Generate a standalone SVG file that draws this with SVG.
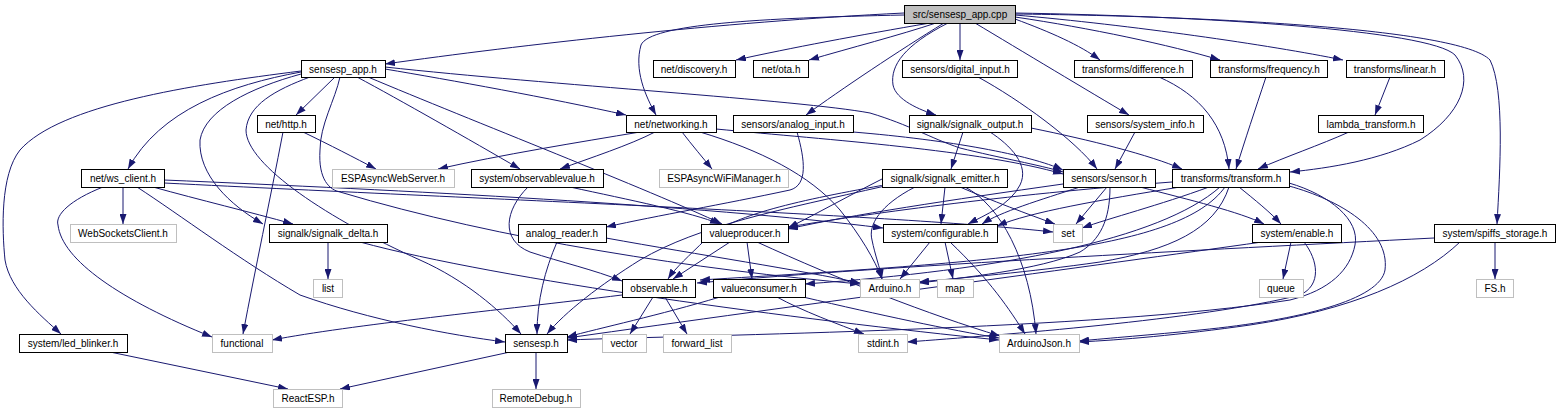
<svg xmlns="http://www.w3.org/2000/svg" width="1559" height="412" viewBox="0 0 1559 412">
<style>
.edge{fill:none;stroke:#191970;stroke-width:1;marker-end:url(#arrow)}
.n rect{fill:#ffffff;stroke:#000000;stroke-width:1}
.x rect{fill:#ffffff;stroke:#bfbfbf;stroke-width:1}
.root rect{fill:#bfbfbf;stroke:#000000;stroke-width:1}
text{font-family:"Liberation Sans",Arial,Helvetica,sans-serif;font-size:10px;text-anchor:middle;fill:#000000}
</style>
<defs>
<marker id="arrow" viewBox="0 0 10 7" refX="10" refY="3.5" markerWidth="10" markerHeight="7" markerUnits="userSpaceOnUse" orient="auto"><path d="M0,0L10,3.5L0,7z" fill="#191970"/></marker>
</defs>
<rect width="1559" height="412" fill="#ffffff"/>
<g id="connectors">
<path class="edge" d="M904,13 C720,22 520,45 385,64"/>
<path class="edge" d="M930,23 C860,35 790,48 736,60"/>
<path class="edge" d="M936,23 C900,35 850,48 809,60"/>
<path class="edge" d="M960,23 L960,60"/>
<path class="edge" d="M904,15 C760,18 650,24 641,45 C634,70 645,95 656,115"/>
<path class="edge" d="M944,23 C900,50 840,90 806,115"/>
<path class="edge" d="M948,23 C905,45 890,65 893,85 C896,100 920,110 936,115"/>
<path class="edge" d="M975,23 C1020,50 1090,92 1129,115"/>
<path class="edge" d="M1015,19 C1050,32 1080,45 1100,60"/>
<path class="edge" d="M1015,17 C1090,28 1170,45 1220,60"/>
<path class="edge" d="M1015,15 C1130,25 1270,45 1343,60"/>
<path class="edge" d="M1015,13 C1200,16 1430,30 1455,55 C1475,80 1460,115 1420,140 C1380,160 1330,168 1290,172"/>
<path class="edge" d="M1015,14 C1200,16 1460,28 1490,60 C1505,90 1500,170 1497,224"/>
<path class="edge" d="M335,77 L296,115"/>
<path class="edge" d="M301,72 C230,85 160,110 128,169"/>
<path class="edge" d="M301,71 C190,85 60,105 20,150 C0,175 2,230 5,260 C10,290 40,315 61,334"/>
<path class="edge" d="M301,74 C250,88 205,110 200,140 C198,175 230,205 263,224"/>
<path class="edge" d="M310,77 C275,90 248,105 246,130 C246,165 330,220 420,260 C465,280 500,310 521,334"/>
<path class="edge" d="M340,77 C335,100 320,125 320,150 C318,180 330,190 340,192 C500,240 700,270 860,284"/>
<path class="edge" d="M385,69 C450,80 550,98 626,115"/>
<path class="edge" d="M357,77 C400,100 470,140 520,169"/>
<path class="edge" d="M368,77 C470,120 650,190 722,224"/>
<path class="edge" d="M385,67 C550,85 800,100 870,113 C910,125 930,138 960,148 C1000,158 1040,165 1063,172"/>
<path class="edge" d="M303,132 C330,145 355,158 376,169"/>
<path class="edge" d="M283,132 C270,200 255,270 243,334"/>
<path class="edge" d="M640,132 C580,142 500,155 438,169"/>
<path class="edge" d="M655,132 C630,145 590,158 560,169"/>
<path class="edge" d="M682,132 C692,145 703,158 712,169"/>
<path class="edge" d="M716,129 C830,140 980,150 1063,174"/>
<path class="edge" d="M700,132 C760,150 810,175 840,210 C860,235 875,260 882,279"/>
<path class="edge" d="M797,132 C805,160 808,185 790,190 C720,205 660,215 606,227"/>
<path class="edge" d="M853,132 C950,140 1030,155 1063,170"/>
<path class="edge" d="M963,132 L951,169"/>
<path class="edge" d="M1031,128 C1090,140 1150,155 1182,169"/>
<path class="edge" d="M990,132 C1010,145 1030,165 1020,185 C1010,205 985,215 968,224"/>
<path class="edge" d="M1135,132 L1115,169"/>
<path class="edge" d="M978,77 C1020,100 1075,140 1097,169"/>
<path class="edge" d="M1159,77 C1200,95 1225,125 1229,169"/>
<path class="edge" d="M1266,77 C1255,110 1245,140 1236,169"/>
<path class="edge" d="M1390,77 L1375,115"/>
<path class="edge" d="M1349,132 C1320,145 1285,157 1258,169"/>
<path class="edge" d="M123,187 L123,224"/>
<path class="edge" d="M153,187 C200,200 250,212 293,224"/>
<path class="edge" d="M103,187 C70,200 55,215 58,225 C62,260 120,300 212,337"/>
<path class="edge" d="M137,187 C180,215 240,260 300,295 C370,320 450,335 505,342"/>
<path class="edge" d="M164,180 C400,190 700,205 883,228"/>
<path class="edge" d="M164,183 C500,200 900,215 1053,232"/>
<path class="edge" d="M328,242 L328,279"/>
<path class="edge" d="M360,242 C500,280 800,320 999,340"/>
<path class="edge" d="M557,242 C545,270 537,300 537,334"/>
<path class="edge" d="M606,238 C700,255 800,270 860,283"/>
<path class="edge" d="M528,187 C505,210 500,240 530,252 C560,262 595,270 622,281"/>
<path class="edge" d="M570,187 C630,200 690,212 720,224"/>
<path class="edge" d="M882,179 C850,195 820,212 788,228"/>
<path class="edge" d="M945,187 L941,224"/>
<path class="edge" d="M960,187 C990,200 1030,215 1055,224"/>
<path class="edge" d="M915,187 C880,205 868,225 872,240 C875,255 880,268 882,279"/>
<path class="edge" d="M965,187 C1000,205 1030,260 1036,334"/>
<path class="edge" d="M890,184 C800,200 730,215 705,240 C690,255 675,268 668,279"/>
<path class="edge" d="M885,186 C780,210 700,225 640,260 C600,285 565,312 547,334"/>
<path class="edge" d="M1107,187 L1076,224"/>
<path class="edge" d="M1080,187 C1040,200 1000,212 982,224"/>
<path class="edge" d="M1063,184 C950,200 850,215 788,229"/>
<path class="edge" d="M1140,187 C1190,200 1240,212 1264,224"/>
<path class="edge" d="M1110,187 C1110,220 1100,240 1080,252 C1040,270 960,278 919,283"/>
<path class="edge" d="M1172,182 C1000,195 860,215 788,227"/>
<path class="edge" d="M1180,187 C1100,200 1030,212 997,226"/>
<path class="edge" d="M1209,187 C1160,205 1110,218 1082,228"/>
<path class="edge" d="M1239,187 C1255,200 1270,212 1281,224"/>
<path class="edge" d="M1220,187 C1160,240 1000,270 805,284"/>
<path class="edge" d="M1225,187 C1180,250 1000,262 700,280"/>
<path class="edge" d="M1229,187 C1215,230 1170,250 1100,262 C1030,272 960,278 919,282"/>
<path class="edge" d="M1289,183 C1330,195 1360,220 1355,245 C1350,270 1330,290 1290,300 C1100,330 700,335 567,340"/>
<path class="edge" d="M1289,186 C1340,200 1390,230 1385,270 C1380,300 1300,320 1200,330 C1150,335 1110,338 1079,341"/>
<path class="edge" d="M1291,242 L1283,279"/>
<path class="edge" d="M1262,242 C1100,265 800,305 567,338"/>
<path class="edge" d="M1304,242 C1318,260 1322,285 1300,295 C1200,320 1000,335 907,342"/>
<path class="edge" d="M1495,242 L1495,279"/>
<path class="edge" d="M1460,242 C1420,280 1350,310 1250,325 C1180,335 1120,340 1079,342"/>
<path class="edge" d="M1434,238 C1200,250 900,265 697,283"/>
<path class="edge" d="M653,297 L630,334"/>
<path class="edge" d="M665,297 L687,334"/>
<path class="edge" d="M622,295 C500,310 350,325 272,340"/>
<path class="edge" d="M730,242 L673,279"/>
<path class="edge" d="M747,242 L752,279"/>
<path class="edge" d="M757,242 C840,280 930,315 1000,336"/>
<path class="edge" d="M720,297 C660,315 600,328 567,337"/>
<path class="edge" d="M777,297 C800,310 840,325 864,334"/>
<path class="edge" d="M803,297 C880,315 950,330 999,338"/>
<path class="edge" d="M930,242 L900,279"/>
<path class="edge" d="M945,242 L953,279"/>
<path class="edge" d="M950,242 C990,280 1010,310 1025,334"/>
<path class="edge" d="M110,352 L288,389"/>
<path class="edge" d="M510,352 L340,389"/>
<path class="edge" d="M536,352 L536,389"/>
</g>
<g id="node-sensesp_app_cpp" class="root"><rect x="904.5" y="5.5" width="111" height="18"/><text x="960" y="18">src/sensesp_app.cpp</text></g>
<g id="node-sensesp_app_h" class="n"><rect x="301.5" y="60.5" width="84" height="17"/><text x="343" y="73">sensesp_app.h</text></g>
<g id="node-discovery" class="n"><rect x="653.5" y="60.5" width="82" height="17"/><text x="694" y="73">net/discovery.h</text></g>
<g id="node-ota" class="n"><rect x="753.5" y="60.5" width="55" height="17"/><text x="781" y="73">net/ota.h</text></g>
<g id="node-digital_input" class="n"><rect x="902.5" y="60.5" width="115" height="17"/><text x="960" y="73">sensors/digital_input.h</text></g>
<g id="node-difference" class="n"><rect x="1074.5" y="60.5" width="118" height="17"/><text x="1133" y="73">transforms/difference.h</text></g>
<g id="node-frequency" class="n"><rect x="1210.5" y="60.5" width="117" height="17"/><text x="1269" y="73">transforms/frequency.h</text></g>
<g id="node-linear" class="n"><rect x="1346.5" y="60.5" width="98" height="17"/><text x="1395" y="73">transforms/linear.h</text></g>
<g id="node-http" class="n"><rect x="257.5" y="115.5" width="58" height="17"/><text x="286" y="128">net/http.h</text></g>
<g id="node-networking" class="n"><rect x="626.5" y="115.5" width="90" height="17"/><text x="671" y="128">net/networking.h</text></g>
<g id="node-analog_input" class="n"><rect x="733.5" y="115.5" width="120" height="17"/><text x="793" y="128">sensors/analog_input.h</text></g>
<g id="node-signalk_output" class="n"><rect x="909.5" y="115.5" width="122" height="17"/><text x="970" y="128">signalk/signalk_output.h</text></g>
<g id="node-system_info" class="n"><rect x="1087.5" y="115.5" width="116" height="17"/><text x="1145" y="128">sensors/system_info.h</text></g>
<g id="node-lambda_transform" class="n"><rect x="1318.5" y="115.5" width="105" height="17"/><text x="1371" y="128">lambda_transform.h</text></g>
<g id="node-ws_client" class="n"><rect x="81.5" y="169.5" width="83" height="18"/><text x="123" y="182">net/ws_client.h</text></g>
<g id="node-ESPAsyncWebServer" class="x"><rect x="332.5" y="169.5" width="122" height="18"/><text x="393" y="182">ESPAsyncWebServer.h</text></g>
<g id="node-observablevalue" class="n"><rect x="471.5" y="169.5" width="132" height="18"/><text x="537" y="182">system/observablevalue.h</text></g>
<g id="node-ESPAsyncWiFiManager" class="x"><rect x="659.5" y="169.5" width="129" height="18"/><text x="724" y="182">ESPAsyncWiFiManager.h</text></g>
<g id="node-signalk_emitter" class="n"><rect x="882.5" y="169.5" width="125" height="18"/><text x="945" y="182">signalk/signalk_emitter.h</text></g>
<g id="node-sensor" class="n"><rect x="1063.5" y="169.5" width="92" height="18"/><text x="1109" y="182">sensors/sensor.h</text></g>
<g id="node-transform" class="n"><rect x="1172.5" y="169.5" width="117" height="18"/><text x="1231" y="182">transforms/transform.h</text></g>
<g id="node-WebSocketsClient" class="x"><rect x="70.5" y="224.5" width="106" height="18"/><text x="123" y="237">WebSocketsClient.h</text></g>
<g id="node-signalk_delta" class="n"><rect x="269.5" y="224.5" width="118" height="18"/><text x="328" y="237">signalk/signalk_delta.h</text></g>
<g id="node-analog_reader" class="n"><rect x="518.5" y="224.5" width="88" height="18"/><text x="562" y="237">analog_reader.h</text></g>
<g id="node-valueproducer" class="n"><rect x="701.5" y="224.5" width="87" height="18"/><text x="745" y="237">valueproducer.h</text></g>
<g id="node-configurable" class="n"><rect x="883.5" y="224.5" width="114" height="18"/><text x="940" y="237">system/configurable.h</text></g>
<g id="node-set" class="x"><rect x="1053.5" y="224.5" width="29" height="18"/><text x="1068" y="237">set</text></g>
<g id="node-enable" class="n"><rect x="1252.5" y="224.5" width="89" height="18"/><text x="1297" y="237">system/enable.h</text></g>
<g id="node-spiffs_storage" class="n"><rect x="1434.5" y="224.5" width="121" height="18"/><text x="1495" y="237">system/spiffs_storage.h</text></g>
<g id="node-list" class="x"><rect x="313.5" y="279.5" width="29" height="18"/><text x="328" y="292">list</text></g>
<g id="node-observable" class="n"><rect x="622.5" y="279.5" width="73" height="18"/><text x="659" y="292">observable.h</text></g>
<g id="node-valueconsumer" class="n"><rect x="713.5" y="279.5" width="92" height="18"/><text x="759" y="292">valueconsumer.h</text></g>
<g id="node-Arduino" class="x"><rect x="860.5" y="279.5" width="59" height="18"/><text x="890" y="292">Arduino.h</text></g>
<g id="node-map" class="x"><rect x="937.5" y="279.5" width="36" height="18"/><text x="955" y="292">map</text></g>
<g id="node-queue" class="x"><rect x="1259.5" y="279.5" width="44" height="18"/><text x="1281" y="292">queue</text></g>
<g id="node-FS" class="x"><rect x="1476.5" y="279.5" width="37" height="18"/><text x="1495" y="292">FS.h</text></g>
<g id="node-led_blinker" class="n"><rect x="19.5" y="334.5" width="108" height="18"/><text x="73" y="347">system/led_blinker.h</text></g>
<g id="node-functional" class="x"><rect x="212.5" y="334.5" width="60" height="18"/><text x="242" y="347">functional</text></g>
<g id="node-sensesp" class="n"><rect x="505.5" y="334.5" width="62" height="18"/><text x="536" y="347">sensesp.h</text></g>
<g id="node-vector" class="x"><rect x="602.5" y="334.5" width="44" height="18"/><text x="624" y="347">vector</text></g>
<g id="node-forward_list" class="x"><rect x="663.5" y="334.5" width="68" height="18"/><text x="697" y="347">forward_list</text></g>
<g id="node-stdint" class="x"><rect x="858.5" y="334.5" width="49" height="18"/><text x="883" y="347">stdint.h</text></g>
<g id="node-ArduinoJson" class="x"><rect x="999.5" y="334.5" width="80" height="18"/><text x="1039" y="347">ArduinoJson.h</text></g>
<g id="node-ReactESP" class="x"><rect x="273.5" y="389.5" width="69" height="18"/><text x="308" y="402">ReactESP.h</text></g>
<g id="node-RemoteDebug" class="x"><rect x="492.5" y="389.5" width="88" height="18"/><text x="536" y="402">RemoteDebug.h</text></g>
</svg>
